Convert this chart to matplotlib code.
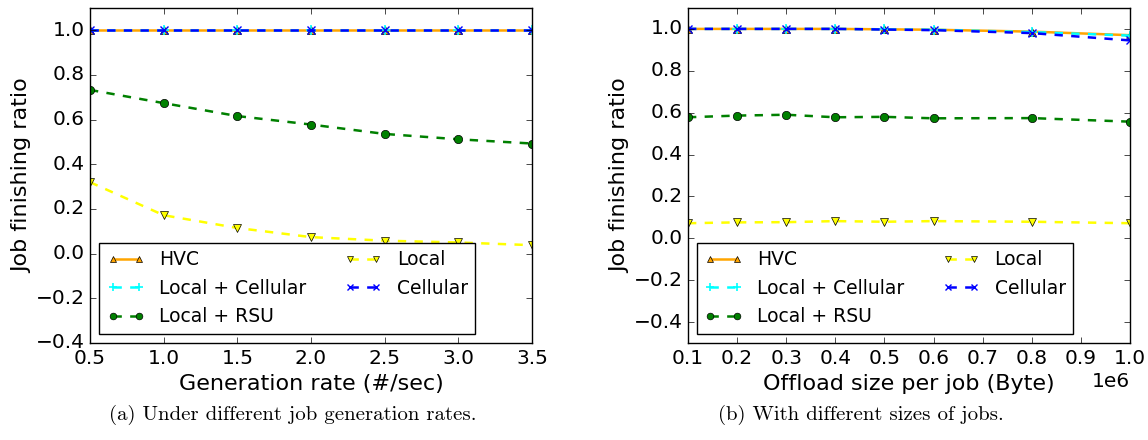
import numpy as np
import matplotlib
matplotlib.use('Agg')
import matplotlib.pyplot as plt

plt.style.use('classic')

# (a) generation rate
rate = [0.5, 1.0, 1.5, 2.0, 2.5, 3.0, 3.5]
hvc_a = [1.0, 1.0, 1.0, 1.0, 1.0, 1.0, 1.0]
lcell_a = [1.0, 1.0, 1.0, 1.0, 1.0, 1.0, 1.0]
rsu_a = [0.733, 0.674, 0.616, 0.578, 0.536, 0.512, 0.493]
local_a = [0.32, 0.172, 0.115, 0.074, 0.058, 0.05, 0.038]
cell_a = [1.0, 1.0, 1.0, 1.0, 1.0, 1.0, 1.0]

# (b) offload size
size = [1e5, 2e5, 3e5, 4e5, 5e5, 6e5, 8e5, 1e6]
hvc_b = [1.0, 1.0, 1.0, 1.0, 0.998, 0.996, 0.987, 0.97]
lcell_b = [1.0, 1.0, 1.0, 1.0, 0.998, 0.996, 0.985, 0.968]
rsu_b = [0.578, 0.586, 0.59, 0.578, 0.58, 0.573, 0.574, 0.557]
local_b = [0.072, 0.076, 0.077, 0.082, 0.079, 0.082, 0.079, 0.072]
cell_b = [1.0, 1.0, 1.0, 1.0, 0.997, 0.994, 0.98, 0.945]

fig = plt.figure(figsize=(11.48, 4.4), dpi=100)
fig.patch.set_facecolor('white')


def draw(ax, x, hvc, lcell, rsu, local, cell):
    ax.plot(x, hvc, '-', color='orange', marker='^', ms=6, lw=1.8, label='HVC')
    ax.plot(x, lcell, '--', color='cyan', marker='+', ms=7, mew=1.2, lw=1.8, label='Local + Cellular')
    ax.plot(x, rsu, '--', color='green', marker='o', ms=6, lw=1.8, label='Local + RSU')
    ax.plot(x, local, '--', color='yellow', marker='v', ms=6, lw=1.8, label='Local')
    ax.plot(x, cell, '--', color='blue', marker='x', ms=6, mew=1.0, lw=1.8, label='Cellular')
    ax.set_ylabel('Job finishing ratio', fontsize=16)
    ax.yaxis.set_label_coords(-0.13, 0.5)
    ax.tick_params(labelsize=14.5)
    leg = ax.legend(loc='lower left', ncol=2, fontsize=13.5, numpoints=2,
                    fancybox=False, borderaxespad=0.5, markerscale=0.8,
                    handlelength=2.0, columnspacing=2.0, labelspacing=0.5)
    leg.get_frame().set_linewidth(1.0)


ax1 = fig.add_axes([0.0784, 0.2205, 0.385, 0.7614])
draw(ax1, rate, hvc_a, lcell_a, rsu_a, local_a, cell_a)
ax1.set_xlim(0.5, 3.5)
ax1.set_ylim(-0.4, 1.1)
ax1.set_yticks(np.arange(-0.4, 1.01, 0.2))
ax1.set_xlabel('Generation rate (#/sec)', fontsize=16)

ax2 = fig.add_axes([0.5993, 0.2205, 0.385, 0.7614])
draw(ax2, size, hvc_b, lcell_b, rsu_b, local_b, cell_b)
ax2.set_xlim(1e5, 1e6)
ax2.set_ylim(-0.5, 1.1)
ax2.set_xticks(np.arange(1e5, 1.01e6, 1e5))
ax2.set_yticks(np.arange(-0.4, 1.01, 0.2))
ax2.ticklabel_format(axis='x', style='sci', scilimits=(0, 0), useOffset=False)
ax2.set_xlabel('Offload size per job (Byte)', fontsize=16)
ax2.xaxis.get_offset_text().set_fontsize(14.5)

fig.text(0.255, 0.045, '(a) Under different job generation rates.', ha='center',
         fontsize=15, family='cmr10')
fig.text(0.75, 0.045, '(b) With different sizes of jobs.', ha='center',
         fontsize=15, family='cmr10')

fig.savefig('out.png', dpi=100, facecolor='white')
